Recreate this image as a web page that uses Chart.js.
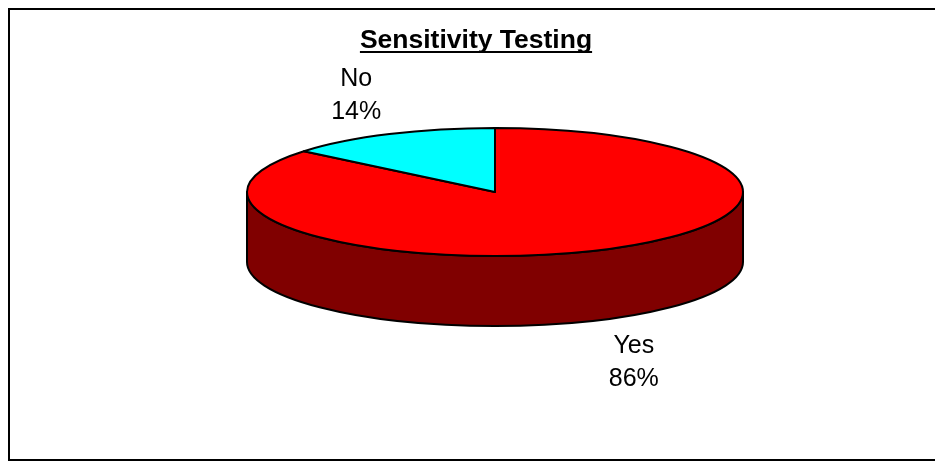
<!DOCTYPE html>
<html>
<head>
<meta charset="utf-8">
<script src="https://cdn.jsdelivr.net/npm/chart.js@4/dist/chart.umd.min.js"></script>
<style>
  body { margin: 0; background: #fff; }
  canvas { display: block; }
</style>
</head>
<body>
<canvas id="pie" width="935" height="462"></canvas>
<script>
const chartTitle = 'Sensitivity Testing';
const categories = ['Yes', 'No'];
const responses = [86, 14];
const sliceColors = ['#FF0000', '#00FFFF'];
const sideColors = ['#800000', '#008080'];

// 3d look: squash the round pie into an ellipse and extrude it downwards
const STRETCH = 248 / 192;
const TILT = 64 / 192;
const DEPTH = 70 / 192;
const LABEL_FONT = '25px "Liberation Sans", Arial, sans-serif';
const TITLE_FONT = 'bold 26.5px "Liberation Sans", Arial, sans-serif';

// parts of [a, b] that face the viewer (lower half of the ellipse)
function frontRanges(a, b) {
    const out = [];
    for (let k = -1; k <= 1; k++) {
        const lo = Math.max(a, k * 2 * Math.PI);
        const hi = Math.min(b, k * 2 * Math.PI + Math.PI);
        if (hi > lo) out.push([lo, hi]);
    }
    return out;
}

const pie3d = {
    id: 'pie3d',
    beforeDraw(chart) {
        const ctx = chart.ctx;
        ctx.save();
        ctx.fillStyle = '#fff';
        ctx.fillRect(0, 0, chart.width, chart.height);
        ctx.strokeStyle = '#000';
        ctx.lineWidth = 2;
        ctx.strokeRect(9, 9, 1000, 451);

        // title with underline
        ctx.font = TITLE_FONT;
        ctx.fillStyle = '#000';
        ctx.textAlign = 'center';
        ctx.textBaseline = 'alphabetic';
        ctx.fillText(chartTitle, 476, 48);
        const w = ctx.measureText(chartTitle).width;
        ctx.fillRect(476 - w / 2, 51, w, 2);
        ctx.restore();
    },
    beforeDatasetsDraw(chart) {
        const ctx = chart.ctx;
        const meta = chart.getDatasetMeta(0);
        const total = responses.reduce((s, v) => s + v, 0);
        ctx.save();
        ctx.strokeStyle = '#000';
        ctx.lineWidth = 2;
        ctx.lineJoin = 'round';

        // sides first
        meta.data.forEach((arc, i) => {
            const p = arc.getProps(['x', 'y', 'startAngle', 'endAngle', 'outerRadius']);
            const rx = p.outerRadius * STRETCH, ry = p.outerRadius * TILT, d = p.outerRadius * DEPTH;
            frontRanges(p.startAngle, p.endAngle).forEach(([a, b]) => {
                ctx.beginPath();
                ctx.ellipse(p.x, p.y, rx, ry, 0, a, b);
                ctx.lineTo(p.x + rx * Math.cos(b), p.y + ry * Math.sin(b) + d);
                ctx.ellipse(p.x, p.y + d, rx, ry, 0, b, a, true);
                ctx.closePath();
                ctx.fillStyle = sideColors[i];
                ctx.fill();
                ctx.stroke();
            });
        });

        // top faces
        meta.data.forEach((arc, i) => {
            const p = arc.getProps(['x', 'y', 'startAngle', 'endAngle', 'outerRadius']);
            const rx = p.outerRadius * STRETCH, ry = p.outerRadius * TILT;
            ctx.beginPath();
            ctx.moveTo(p.x, p.y);
            ctx.ellipse(p.x, p.y, rx, ry, 0, p.startAngle, p.endAngle);
            ctx.closePath();
            ctx.fillStyle = arc.options.backgroundColor;
            ctx.fill();
            ctx.stroke();
        });

        // labels outside the slices
        ctx.font = LABEL_FONT;
        ctx.fillStyle = '#000';
        ctx.textAlign = 'center';
        ctx.textBaseline = 'alphabetic';
        meta.data.forEach((arc, i) => {
            const p = arc.getProps(['x', 'y', 'startAngle', 'endAngle', 'outerRadius']);
            const mid = (p.startAngle + p.endAngle) / 2;
            const rx = p.outerRadius * STRETCH, ry = p.outerRadius * TILT, d = p.outerRadius * DEPTH;
            const lx = p.x + Math.cos(mid) * (rx + 78);
            let ly = p.y + Math.sin(mid) * (ry + 45);
            if (Math.sin(mid) > 0) ly += d;
            const pct = Math.round(responses[i] / total * 100);
            ctx.fillText(categories[i], lx, ly - 7.5);
            ctx.fillText(pct + '%', lx, ly + 25.5);
        });
        ctx.restore();
        return false;
    }
};

new Chart(document.getElementById('pie'), {
    type: 'pie',
    data: {
        labels: categories,
        datasets: [{
            data: responses,
            backgroundColor: sliceColors,
            borderWidth: 0
        }]
    },
    options: {
        responsive: false,
        animation: false,
        radius: 192,
        layout: { padding: { left: 55, right: 0, top: 0, bottom: 78 } },
        plugins: {
            legend: { display: false },
            tooltip: { enabled: false },
            title: { display: false }
        }
    },
    plugins: [pie3d]
});
</script>
</body>
</html>
